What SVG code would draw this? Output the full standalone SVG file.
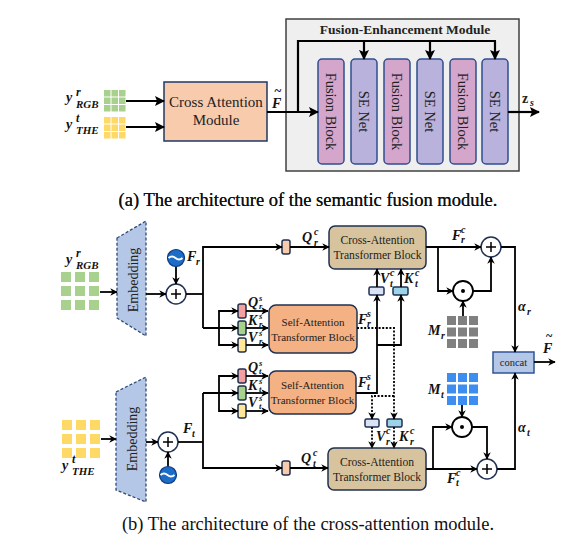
<svg xmlns="http://www.w3.org/2000/svg" width="563" height="551" viewBox="0 0 563 551">
<defs>
<marker id="ah" viewBox="0 0 10 10" refX="9" refY="5" markerWidth="7.5" markerHeight="7.5" markerUnits="userSpaceOnUse" orient="auto"><path d="M0,0 L10,5 L0,10 L3,5 z" fill="#000"/></marker>
<marker id="ahL" viewBox="0 0 10 10" refX="9" refY="5" markerWidth="10" markerHeight="10" markerUnits="userSpaceOnUse" orient="auto"><path d="M0,0 L10,5 L0,10 L2,5 z" fill="#000"/></marker>
<style>
.ln{fill:none;stroke:#000;stroke-width:1.8}
.lnL{fill:none;stroke:#000;stroke-width:2.2}
.dt{fill:none;stroke:#000;stroke-width:1.8;stroke-dasharray:2,1.6}
.serif{font-family:"Liberation Serif","Times New Roman",serif;fill:#222}
.m{font-family:"Liberation Serif","Times New Roman",serif;font-weight:bold;font-style:italic;font-size:14px;fill:#111}
.sc{font-size:10px}
.sc9{font-size:8.5px}
.blk{stroke:#2f4f8f;stroke-width:1.5}
.fus{fill:#d5a6cb}
.se{fill:#b9b2dc}
.nav{stroke:#1f3050;stroke-width:1.5}
.g{fill:#a9d18e}
.yl{fill:#ffd966}
.gr{fill:#808080}
.bl{fill:#3d8ef0}
.cap{font-family:"Liberation Serif","Times New Roman",serif;font-size:18.5px;fill:#111}
</style>
</defs>

<!-- ===== Part (a) ===== -->
<g id="fem">
<rect x="286" y="19" width="233" height="152" fill="#efefef" stroke="#404040" stroke-width="1.5"/>
<text class="serif" x="405" y="34" text-anchor="middle" font-size="13.5" font-weight="bold">Fusion-Enhancement Module</text>
</g>
<g id="in_a">
<g class="g">
<rect x="104" y="90" width="6.5" height="6.5"/><rect x="111.5" y="90" width="6.5" height="6.5"/><rect x="119" y="90" width="6.5" height="6.5"/>
<rect x="104" y="97.5" width="6.5" height="6.5"/><rect x="111.5" y="97.5" width="6.5" height="6.5"/><rect x="119" y="97.5" width="6.5" height="6.5"/>
<rect x="104" y="105" width="6.5" height="6.5"/><rect x="111.5" y="105" width="6.5" height="6.5"/><rect x="119" y="105" width="6.5" height="6.5"/>
</g>
<g class="yl">
<rect x="104" y="117" width="6.5" height="6.5"/><rect x="111.5" y="117" width="6.5" height="6.5"/><rect x="119" y="117" width="6.5" height="6.5"/>
<rect x="104" y="124.5" width="6.5" height="6.5"/><rect x="111.5" y="124.5" width="6.5" height="6.5"/><rect x="119" y="124.5" width="6.5" height="6.5"/>
<rect x="104" y="132" width="6.5" height="6.5"/><rect x="111.5" y="132" width="6.5" height="6.5"/><rect x="119" y="132" width="6.5" height="6.5"/>
</g>
<text class="m" x="66" y="102" font-size="21">y<tspan x="76" y="96" font-size="12">r</tspan><tspan x="76" y="108" font-size="11">RGB</tspan></text>
<text class="m" x="66" y="129" font-size="21">y<tspan x="76" y="122" font-size="12">t</tspan><tspan x="76" y="134" font-size="11">THE</tspan></text>
</g>
<g id="cam">
<rect x="164" y="82" width="103" height="59" fill="#f8cbad" stroke="#1f3864" stroke-width="1.5"/>
<text class="serif" x="216" y="107" text-anchor="middle" font-size="15">Cross Attention</text>
<text class="serif" x="216" y="125" text-anchor="middle" font-size="15">Module</text>
</g>
<g id="blocks_a" class="serif" font-size="14.5">
<rect class="fus blk" x="318" y="59" width="26" height="105" rx="4"/>
<rect class="se blk" x="351" y="59" width="26" height="105" rx="4"/>
<rect class="fus blk" x="384" y="59" width="26" height="105" rx="4"/>
<rect class="se blk" x="417" y="59" width="26" height="105" rx="4"/>
<rect class="fus blk" x="450" y="59" width="26" height="105" rx="4"/>
<rect class="se blk" x="482" y="59" width="26" height="105" rx="4"/>
<text transform="translate(331,111.5) rotate(90)" text-anchor="middle" dominant-baseline="central">Fusion Block</text>
<text transform="translate(364,111.5) rotate(90)" text-anchor="middle" dominant-baseline="central">SE Net</text>
<text transform="translate(397,111.5) rotate(90)" text-anchor="middle" dominant-baseline="central">Fusion Block</text>
<text transform="translate(430,111.5) rotate(90)" text-anchor="middle" dominant-baseline="central">SE Net</text>
<text transform="translate(463,111.5) rotate(90)" text-anchor="middle" dominant-baseline="central">Fusion Block</text>
<text transform="translate(495,111.5) rotate(90)" text-anchor="middle" dominant-baseline="central">SE Net</text>
</g>
<g id="conn_a">
<line class="lnL" x1="126" y1="101" x2="164" y2="101" marker-end="url(#ahL)"/>
<line class="lnL" x1="126" y1="127" x2="164" y2="127" marker-end="url(#ahL)"/>
<line class="lnL" x1="267" y1="112" x2="318" y2="112" marker-end="url(#ahL)"/>
<polyline class="lnL" points="298,112 298,41 496,41"/>
<line class="lnL" x1="364" y1="41" x2="364" y2="59" marker-end="url(#ahL)"/>
<line class="lnL" x1="430" y1="41" x2="430" y2="59" marker-end="url(#ahL)"/>
<line class="lnL" x1="495" y1="41" x2="495" y2="59" marker-end="url(#ahL)"/>
<line class="lnL" x1="508" y1="112" x2="539" y2="112" marker-end="url(#ahL)"/>
<text class="m" x="272" y="108" font-size="15">F</text>
<text class="serif" x="278" y="95" font-size="13" font-weight="bold" text-anchor="middle">~</text>
<text class="serif" x="522" y="103" font-size="14" font-weight="bold">z<tspan x="530" y="106" font-size="10" font-style="italic">s</tspan></text>
</g>
<text class="cap" x="308" y="206" text-anchor="middle">(a) The architecture of the semantic fusion module.</text>

<!-- ===== Part (b) ===== -->
<g id="emb_r">
<polygon points="117,238 146,221 146,336 117,318" fill="#b4c7e7" stroke="#2f4a7a" stroke-width="1.3" stroke-dasharray="3,2"/>
<text class="serif" transform="translate(133,280) rotate(-90)" text-anchor="middle" dominant-baseline="central" font-size="14" fill="#3a3a3a">Embedding</text>
</g>
<g id="emb_t">
<polygon points="116,392 146,377 146,502 116,490" fill="#b4c7e7" stroke="#2f4a7a" stroke-width="1.3" stroke-dasharray="3,2"/>
<text class="serif" transform="translate(132,439) rotate(-90)" text-anchor="middle" dominant-baseline="central" font-size="14" fill="#3a3a3a">Embedding</text>
</g>
<g id="in_r">
<g class="g">
<rect x="61" y="272" width="10" height="10"/><rect x="75" y="272" width="10" height="10"/><rect x="89" y="272" width="10" height="10"/>
<rect x="61" y="286" width="10" height="10"/><rect x="75" y="286" width="10" height="10"/><rect x="89" y="286" width="10" height="10"/>
<rect x="61" y="300" width="10" height="10"/><rect x="75" y="300" width="10" height="10"/><rect x="89" y="300" width="10" height="10"/>
</g>
<text class="m" x="66" y="264" font-size="21">y<tspan x="76" y="257" font-size="12">r</tspan><tspan x="76" y="269" font-size="11">RGB</tspan></text>
</g>
<g id="in_t">
<g class="yl">
<rect x="62" y="420" width="10" height="10"/><rect x="76" y="420" width="10" height="10"/><rect x="90" y="420" width="10" height="10"/>
<rect x="62" y="434" width="10" height="10"/><rect x="76" y="434" width="10" height="10"/><rect x="90" y="434" width="10" height="10"/>
<rect x="62" y="448" width="10" height="10"/><rect x="76" y="448" width="10" height="10"/><rect x="90" y="448" width="10" height="10"/>
</g>
<text class="m" x="62" y="470" font-size="21">y<tspan x="72" y="463" font-size="12">t</tspan><tspan x="72" y="475" font-size="11">THE</tspan></text>
</g>
<g id="add_r">
<circle cx="176" cy="294" r="10" fill="#fff" stroke="#1f3050" stroke-width="1.5"/>
<path d="M171,294 h10 M176,289 v10" stroke="#000" stroke-width="1.5"/>
</g>
<g id="pe_r">
<circle cx="176" cy="258" r="8.5" fill="#1c6cc8" stroke="#0b3a7a" stroke-width="1.2"/>
<path d="M168.5,258 q3.5,-3 7,0 t7,0" fill="none" stroke="#fff" stroke-width="2"/>
</g>
<g id="add_t">
<circle cx="168" cy="442" r="10" fill="#fff" stroke="#1f3050" stroke-width="1.5"/>
<path d="M163,442 h10 M168,437 v10" stroke="#000" stroke-width="1.5"/>
</g>
<g id="pe_t">
<circle cx="168" cy="475" r="8.5" fill="#1c6cc8" stroke="#0b3a7a" stroke-width="1.2"/>
<path d="M160.5,475 q3.5,-3 7,0 t7,0" fill="none" stroke="#fff" stroke-width="2"/>
</g>
<g id="proj_qrc"><rect x="282" y="240" width="8" height="14" rx="2" fill="#f8cbad" class="nav"/></g>
<g id="proj_qtc"><rect x="282" y="461" width="8" height="14" rx="2" fill="#f8cbad" class="nav"/></g>
<g id="proj_r">
<rect x="238" y="304" width="8" height="14" rx="2" fill="#f4a0a0" class="nav"/>
<rect x="238" y="321" width="8" height="14" rx="2" fill="#a9d18e" class="nav"/>
<rect x="238" y="338" width="8" height="14" rx="2" fill="#ffe699" class="nav"/>
</g>
<g id="proj_t">
<rect x="238" y="369" width="8" height="14" rx="2" fill="#f4a0a0" class="nav"/>
<rect x="238" y="386" width="8" height="14" rx="2" fill="#a9d18e" class="nav"/>
<rect x="238" y="404" width="8" height="14" rx="2" fill="#ffe699" class="nav"/>
</g>
<g id="sa_r">
<rect x="269" y="305" width="88" height="48" rx="7" fill="#f4b183" class="nav"/>
<text class="serif" x="313" y="326" text-anchor="middle" font-size="11">Self-Attention</text>
<text class="serif" x="313" y="341" text-anchor="middle" font-size="11">Transformer Block</text>
</g>
<g id="sa_t">
<rect x="269" y="371" width="87" height="43" rx="7" fill="#f4b183" class="nav"/>
<text class="serif" x="312.5" y="389" text-anchor="middle" font-size="11">Self-Attention</text>
<text class="serif" x="312.5" y="404" text-anchor="middle" font-size="11">Transformer Block</text>
</g>
<g id="ca_r">
<rect x="329" y="226" width="97" height="43" rx="6" fill="#d7c49e" class="nav"/>
<text class="serif" x="377.5" y="244" text-anchor="middle" font-size="11.6">Cross-Attention</text>
<text class="serif" x="377.5" y="259" text-anchor="middle" font-size="11.6">Transformer Block</text>
</g>
<g id="ca_t">
<rect x="328" y="448" width="98" height="42" rx="6" fill="#d7c49e" class="nav"/>
<text class="serif" x="377" y="466" text-anchor="middle" font-size="11.6">Cross-Attention</text>
<text class="serif" x="377" y="481" text-anchor="middle" font-size="11.6">Transformer Block</text>
</g>
<g id="kv_t">
<rect x="369" y="287" width="15" height="8" rx="1.5" fill="#dae3f3" class="nav"/>
<rect x="393" y="287" width="15" height="8" rx="1.5" fill="#9dd3e8" class="nav"/>
</g>
<g id="kv_r">
<rect x="365" y="419" width="14" height="8" rx="1.5" fill="#dae3f3" class="nav"/>
<rect x="387" y="419" width="15" height="8" rx="1.5" fill="#9dd3e8" class="nav"/>
</g>
<g id="add_r2">
<circle cx="491" cy="247" r="10" fill="#fff" stroke="#1f3050" stroke-width="1.5"/>
<path d="M486,247 h10 M491,242 v10" stroke="#000" stroke-width="1.5"/>
</g>
<g id="mul_r">
<circle cx="463" cy="291" r="10" fill="#fff" stroke="#000" stroke-width="1.8"/>
<circle cx="463" cy="291" r="2" fill="#000"/>
</g>
<g id="add_t2">
<circle cx="487" cy="469" r="10" fill="#fff" stroke="#1f3050" stroke-width="1.5"/>
<path d="M482,469 h10 M487,464 v10" stroke="#000" stroke-width="1.5"/>
</g>
<g id="mul_t">
<circle cx="462" cy="427" r="10" fill="#fff" stroke="#000" stroke-width="1.8"/>
<circle cx="462" cy="427" r="2" fill="#000"/>
</g>
<g id="mask_r" class="gr">
<rect x="447" y="316" width="9" height="9"/><rect x="458" y="316" width="9" height="9"/><rect x="469" y="316" width="9" height="9"/>
<rect x="447" y="327.5" width="9" height="9"/><rect x="458" y="327.5" width="9" height="9"/><rect x="469" y="327.5" width="9" height="9"/>
<rect x="447" y="339" width="9" height="9"/><rect x="458" y="339" width="9" height="9"/><rect x="469" y="339" width="9" height="9"/>
</g>
<g id="mask_t" class="bl">
<rect x="447" y="373" width="9" height="9"/><rect x="458" y="373" width="9" height="9"/><rect x="469" y="373" width="9" height="9"/>
<rect x="447" y="384.5" width="9" height="9"/><rect x="458" y="384.5" width="9" height="9"/><rect x="469" y="384.5" width="9" height="9"/>
<rect x="447" y="396" width="9" height="9"/><rect x="458" y="396" width="9" height="9"/><rect x="469" y="396" width="9" height="9"/>
</g>
<g id="concat">
<rect x="493" y="352" width="41" height="21" fill="#b4c7e7" stroke="#2f5597" stroke-width="1.5"/>
<text class="serif" x="513.5" y="366" text-anchor="middle" font-size="10.5">concat</text>
</g>

<g id="conn_b">
<line class="ln" x1="100" y1="292" x2="117" y2="292" marker-end="url(#ah)"/>
<line class="ln" x1="101" y1="439" x2="116" y2="439" marker-end="url(#ah)"/>
<line class="ln" x1="146" y1="294" x2="166" y2="294" marker-end="url(#ah)"/>
<line class="ln" x1="176" y1="267" x2="176" y2="284" marker-end="url(#ah)"/>
<line class="ln" x1="146" y1="442" x2="158" y2="442" marker-end="url(#ah)"/>
<line class="ln" x1="168" y1="466" x2="168" y2="452" marker-end="url(#ah)"/>
<line class="ln" x1="186" y1="294" x2="203" y2="294"/>
<line class="ln" x1="178" y1="442" x2="203" y2="442"/>
<polyline class="ln" points="203,328 203,247 282,247" marker-end="url(#ah)"/>
<line class="ln" x1="290" y1="247" x2="329" y2="247" marker-end="url(#ah)"/>
<polyline class="ln" points="203,393 203,468 282,468" marker-end="url(#ah)"/>
<line class="ln" x1="290" y1="468" x2="328" y2="468" marker-end="url(#ah)"/>
<line class="ln" x1="203" y1="328" x2="238" y2="328" marker-end="url(#ah)"/>
<polyline class="ln" points="238,311 219,311 219,345 238,345" />
<line class="ln" x1="225" y1="311" x2="238" y2="311" marker-end="url(#ah)"/>
<line class="ln" x1="225" y1="345" x2="238" y2="345" marker-end="url(#ah)"/>
<line class="ln" x1="246" y1="311" x2="268" y2="311" marker-end="url(#ah)"/>
<line class="ln" x1="246" y1="328" x2="268" y2="328" marker-end="url(#ah)"/>
<line class="ln" x1="246" y1="345" x2="268" y2="345" marker-end="url(#ah)"/>
<line class="ln" x1="203" y1="393" x2="238" y2="393" marker-end="url(#ah)"/>
<polyline class="ln" points="238,376 219,376 219,411 238,411"/>
<line class="ln" x1="225" y1="376" x2="238" y2="376" marker-end="url(#ah)"/>
<line class="ln" x1="225" y1="411" x2="238" y2="411" marker-end="url(#ah)"/>
<line class="ln" x1="246" y1="376" x2="268" y2="376" marker-end="url(#ah)"/>
<line class="ln" x1="246" y1="393" x2="268" y2="393" marker-end="url(#ah)"/>
<line class="ln" x1="246" y1="411" x2="268" y2="411" marker-end="url(#ah)"/>
<polyline class="ln" points="356,393 377,393 377,295" marker-end="url(#ah)"/>
<polyline class="ln" points="377,345 401,345 401,295" marker-end="url(#ah)"/>
<line class="ln" x1="377" y1="287" x2="377" y2="269" marker-end="url(#ah)"/>
<line class="ln" x1="401" y1="287" x2="401" y2="269" marker-end="url(#ah)"/>
<polyline class="dt" points="357,328 394,328 394,419" marker-end="url(#ah)"/>
<polyline class="dt" points="394,396 372,396 372,419" marker-end="url(#ah)"/>
<line class="dt" x1="372" y1="427" x2="372" y2="448" marker-end="url(#ah)"/>
<line class="dt" x1="394" y1="427" x2="394" y2="448" marker-end="url(#ah)"/>
<line class="ln" x1="426" y1="247" x2="481" y2="247" marker-end="url(#ah)"/>
<polyline class="ln" points="438,247 438,291 453,291" marker-end="url(#ah)"/>
<polyline class="ln" points="473,291 491,291 491,257" marker-end="url(#ah)"/>
<line class="ln" x1="463" y1="316" x2="463" y2="301" marker-end="url(#ah)"/>
<polyline class="ln" points="501,247 515,247 515,352" marker-end="url(#ah)"/>
<line class="ln" x1="534" y1="362" x2="555" y2="362" marker-end="url(#ah)"/>
<line class="ln" x1="426" y1="469" x2="477" y2="469" marker-end="url(#ah)"/>
<polyline class="ln" points="433,469 433,427 452,427" marker-end="url(#ah)"/>
<polyline class="ln" points="472,427 487,427 487,459" marker-end="url(#ah)"/>
<line class="ln" x1="462" y1="405" x2="462" y2="417" marker-end="url(#ah)"/>
<polyline class="ln" points="497,469 515,469 515,373" marker-end="url(#ah)"/>
</g>

<g id="labels_b">
<text class="m" x="187" y="261">F<tspan x="196" y="265" class="sc">r</tspan></text>
<text class="m" x="183" y="433">F<tspan x="192" y="437" class="sc">t</tspan></text>
<text class="m" x="302" y="242">Q<tspan x="314" y="235" class="sc">c</tspan><tspan x="314" y="246" class="sc">r</tspan></text>
<text class="m" x="301" y="463">Q<tspan x="313" y="456" class="sc">c</tspan><tspan x="313" y="467" class="sc">t</tspan></text>
<text class="m" x="248" y="307" font-size="13">Q<tspan x="259" y="301" class="sc9">s</tspan><tspan x="259" y="309" class="sc9">r</tspan></text>
<text class="m" x="248" y="325" font-size="13">K<tspan x="259" y="319" class="sc9">s</tspan><tspan x="259" y="327" class="sc9">r</tspan></text>
<text class="m" x="248" y="342" font-size="13">V<tspan x="259" y="336" class="sc9">s</tspan><tspan x="259" y="344" class="sc9">r</tspan></text>
<text class="m" x="248" y="372" font-size="13">Q<tspan x="259" y="366" class="sc9">s</tspan><tspan x="259" y="374" class="sc9">t</tspan></text>
<text class="m" x="248" y="390" font-size="13">K<tspan x="259" y="384" class="sc9">s</tspan><tspan x="259" y="392" class="sc9">t</tspan></text>
<text class="m" x="248" y="407" font-size="13">V<tspan x="259" y="401" class="sc9">s</tspan><tspan x="259" y="409" class="sc9">t</tspan></text>
<text class="m" x="358" y="324">F<tspan x="367" y="317" class="sc">s</tspan><tspan x="367" y="327" class="sc">r</tspan></text>
<text class="m" x="358" y="387">F<tspan x="367" y="380" class="sc">s</tspan><tspan x="367" y="390" class="sc">t</tspan></text>
<text class="m" x="380" y="283">V<tspan x="390" y="276" class="sc">c</tspan><tspan x="390" y="287" class="sc">t</tspan></text>
<text class="m" x="404" y="283">K<tspan x="415" y="276" class="sc">c</tspan><tspan x="415" y="287" class="sc">t</tspan></text>
<text class="m" x="376" y="441">V<tspan x="386" y="434" class="sc">c</tspan><tspan x="386" y="445" class="sc">r</tspan></text>
<text class="m" x="399" y="441">K<tspan x="410" y="434" class="sc">c</tspan><tspan x="410" y="445" class="sc">r</tspan></text>
<text class="m" x="452" y="240">F<tspan x="461" y="233" class="sc">c</tspan><tspan x="461" y="243" class="sc">r</tspan></text>
<text class="m" x="447" y="483">F<tspan x="456" y="476" class="sc">c</tspan><tspan x="456" y="486" class="sc">t</tspan></text>
<text class="m" x="428" y="335">M<tspan x="441" y="339" class="sc">r</tspan></text>
<text class="m" x="428" y="394">M<tspan x="441" y="398" class="sc">t</tspan></text>
<text class="m" x="518" y="311">α<tspan x="527" y="315" class="sc">r</tspan></text>
<text class="m" x="518" y="432">α<tspan x="527" y="436" class="sc">t</tspan></text>
<text class="m" x="543" y="353">F</text>
<text class="serif" x="549" y="340" font-size="12" font-weight="bold" text-anchor="middle">~</text>
</g>
<text class="cap" x="308" y="206" text-anchor="middle">(a) The architecture of the semantic fusion module.</text>
<text class="cap" x="308" y="530" text-anchor="middle">(b) The architecture of the cross-attention module.</text>
</svg>
